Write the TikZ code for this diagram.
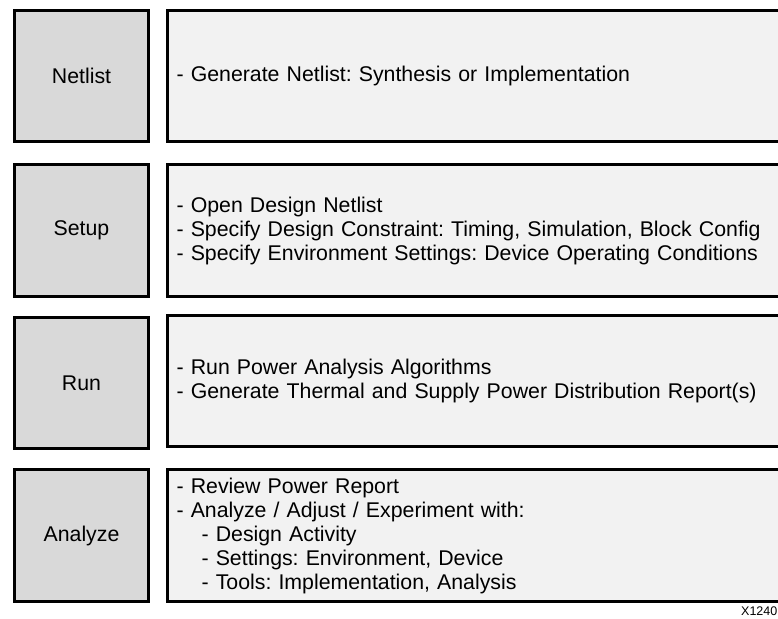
\documentclass[tikz,border=0pt]{standalone}
\usepackage{fontspec}
\setmainfont{Liberation Sans}
\definecolor{leftgray}{HTML}{D9D9D9}
\definecolor{rightgray}{HTML}{F2F2F2}
\begin{document}
\frenchspacing
\begin{tikzpicture}[x=1pt,y=-1pt,
  stage/.style={draw=black, line width=2.6pt, fill=leftgray, minimum width=134.4pt,
    minimum height=131.5pt, inner sep=0pt, font=\fontsize{21.3}{24}\selectfont},
  detail/.style={draw=black, line width=2.6pt, fill=rightgray, minimum height=131.5pt,
    text width=600pt, inner xsep=9pt, inner ysep=0pt, align=left, anchor=west,
    font=\fontsize{21.3}{24}\selectfont},
  tag/.style={font=\fontsize{12.5}{14}\selectfont, inner sep=0pt, anchor=base east}]
\useasboundingbox (0,0) rectangle (778,618);
\clip (0,0) rectangle (778,618);
\fill[white] (0,0) rectangle (778,618);

\node[stage] (netlist) at (81.5,76) {Netlist};
\node[stage] (setup) at (81.5,230.5) {Setup};
\node[stage] (run) at (81.5,383) {Run};
\node[stage] (analyze) at (81.5,535.5) {Analyze};

\node[detail] (dnetlist) at (166.3,76) {- Generate Netlist: Synthesis or Implementation};
\node[detail] (dsetup) at (166.3,230.5) {- Open Design Netlist\\
- Specify Design Constraint: Timing, Simulation, Block Config\\
- Specify Environment Settings: Device Operating Conditions};
\node[detail] (drun) at (166.3,381) {- Run Power Analysis Algorithms\\
- Generate Thermal and Supply Power Distribution Report(s)};
\node[detail] (danalyze) at (166.3,535.5) {- Review Power Report\\
- Analyze / Adjust / Experiment with:\\
\hspace*{25pt}- Design Activity\\
\hspace*{25pt}- Settings: Environment, Device\\
\hspace*{25pt}- Tools: Implementation, Analysis};

\node[tag] (code) at (777.5,615.5) {X1240};
\end{tikzpicture}
\end{document}
